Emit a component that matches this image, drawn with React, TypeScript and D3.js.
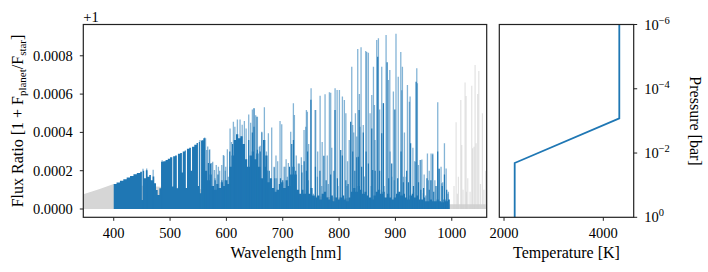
import React from 'react';
import * as d3 from 'd3';

const W = 708;
const H = 272;
const BLUE = '#1f77b4';
const FONT = 'Liberation Serif, DejaVu Serif, Times New Roman, serif';

// flux ratio above 1, in units of 1e-4
// opaque (densely blended) part of the spectrum inside the band
const denseWl = [
  400, 405, 411, 417, 423, 429, 435, 441, 447, 450, 451.5, 454, 457, 460, 463, 466, 469, 472, 475, 478,
  481, 484, 488, 492, 496, 500, 504, 505.5, 509, 512, 514, 518, 521, 522.5, 526, 528, 530, 534, 537, 539,
  543, 547, 549.5, 551, 553, 555, 559, 562, 566, 570, 574, 578, 582, 586, 590, 594, 598, 602, 605, 609,
  613, 617, 621, 625, 629, 633, 637, 641, 645, 649, 653, 657, 661, 665, 669, 673, 677, 681, 685, 689,
  693, 697, 701, 705, 709, 713, 717, 721, 725, 729, 733, 737, 741, 745, 749, 753, 757, 761, 765, 769,
  773, 777, 781, 785, 789, 793, 797, 801, 805, 809, 813, 817, 821, 825, 829, 833, 837, 841, 845, 849,
  853, 857, 861, 865, 869, 873, 877, 881, 885, 889, 893, 897, 901, 905, 909, 913, 917, 921, 925, 929,
  933, 937, 941, 945, 949, 953, 957, 961, 965, 969, 973, 977, 981, 985, 989, 993, 996.5,
];
const denseVal = [
  1.31, 1.39, 1.48, 1.56, 1.65, 1.73, 1.81, 1.88, 1.95, 0.47, 2.0, 1.6, 2.02, 1.69, 1.78, 1.5, 1.7, 1.34, 0.99, 0.73,
  1.08, 2.47, 2.5, 2.56, 2.62, 2.7, 1.17, 2.76, 2.8, 1.08, 2.88, 2.92, 1.9, 3.0, 3.05, 1.1, 3.15, 3.2, 2.0, 3.25,
  3.35, 3.45, 1.2, 3.5, 0.82, 3.58, 3.7, 2.0, 1.5, 1.8, 1.2, 1.0, 1.3, 1.1, 1.4, 1.2, 1.5, 1.3, 2.2, 2.8,
  3.6, 3.9, 3.7, 3.8, 3.4, 2.6, 2.2, 2.8, 3.0, 2.6, 2.9, 2.2, 1.6, 2.2, 2.8, 1.4, 1.6, 1.1, 0.9, 1.0,
  1.3, 1.4, 1.1, 1.5, 1.2, 1.8, 2.2, 1.8, 1.0, 0.8, 1.0, 0.8, 1.0, 0.8, 1.1, 0.7, 0.6, 0.7, 0.5, 0.8,
  0.9, 0.6, 0.5, 0.7, 0.4, 0.6, 0.5, 0.6, 0.7, 0.5, 0.4, 0.6, 0.9, 1.1, 0.9, 1.2, 1.0, 0.8, 0.9, 0.7,
  0.6, 0.5, 0.7, 0.9, 1.0, 0.8, 0.9, 0.6, 0.8, 0.6, 0.5, 0.6, 0.8, 0.9, 0.7, 0.8, 0.6, 0.5, 0.7, 0.8,
  0.6, 0.7, 0.5, 0.5, 0.6, 0.4, 0.4, 0.5, 0.4, 0.4, 0.5, 0.4, 0.35, 0.5, 0.4, 0.5, 0,
];

// individual emission lines (semi-transparent)
const lineWl = [
  452, 458.5, 470, 486, 553, 557.9, 561.5, 563, 565, 566.8, 569.8, 570.4, 574, 575.7, 578.7, 579.8, 582, 585.8, 588, 591.7,
  594.6, 595.8, 598, 598.8, 601.7, 603.5, 606.5, 609, 612.4, 615, 619.5, 624.2, 626, 628, 631.9, 635, 636, 639.6, 643, 646.1,
  648.5, 649.6, 652, 653.8, 655, 658.5, 660, 662.7, 663, 667.4, 671, 671.5, 674.5, 680.4, 684.6, 685.2, 688, 689.3, 691, 695.2,
  698.2, 702.3, 704, 706, 708.2, 710, 714.1, 718.9, 720.7, 724, 727.7, 729.5, 733, 733.7, 737.8, 740.8, 742, 743.7, 745.5, 746,
  750.3, 754.4, 757.4, 758.5, 761.5, 762, 766.3, 769.2, 770, 775.1, 779, 781, 782.8, 785.1, 787, 792.9, 796.5, 798, 800.6, 805.9,
  809.4, 812, 814, 815, 818, 822.5, 824.2, 826, 829, 831.3, 833.1, 836, 837.2, 839, 843, 845, 847.3, 849, 852, 855,
  857, 858, 861, 862.7, 863.8, 866.8, 869.8, 872, 875.7, 878.7, 880, 883.4, 887.6, 890, 890.5, 893.5, 896.4, 898, 901, 905,
  909.5, 911.2, 912.4, 914.2, 916, 918.9, 921.3, 924.8, 926, 931, 932, 934, 936, 937.9, 939, 940.8, 943.8, 945, 947, 949.7,
  951, 953.8, 956.8, 958.6, 960, 963.3, 966, 966.3, 970, 975.1, 977.5, 981, 982.2, 984, 987, 990, 993, 994,
];
const lineVal = [
  2.1, 2.12, 2.05, 2.55, 3.6, 3.6, 3.74, 3.69, 3.08, 3.26, 3.08, 3.12, 2.4, 2.47, 2.04, 1.6, 2.3, 2.21, 2.0, 2.3,
  2.82, 2.78, 2.0, 2.21, 3.12, 1.69, 4.21, 3.5, 4.56, 4.3, 4.68, 4.68, 3.78, 4.4, 4.6, 4.2, 2.04, 4.94, 4.5, 5.2,
  5.26, 5.26, 4.9, 4.82, 4.82, 3.25, 3.3, 4.04, 4.0, 5.31, 3.0, 2.04, 3.95, 4.26, 2.21, 2.18, 2.8, 1.6, 2.5, 4.6,
  4.42, 2.21, 2.21, 2.6, 1.69, 2.4, 4.04, 5.52, 4.91, 2.8, 2.38, 2.38, 2.7, 2.3, 4.13, 4.3, 5.17, 5.08, 1.5, 3.4,
  6.3, 0.8, 5.17, 5.17, 1.69, 3.0, 5.92, 1.2, 3.5, 5.99, 2.8, 1.3, 6.09, 6.07, 3.2, 6.3, 6.21, 1.2, 6.21, 5.87,
  5.69, 5.0, 1.2, 2.5, 3.6, 7.43, 4.39, 4.0, 5.0, 3.78, 8.36, 6.0, 4.3, 8.44, 4.39, 1.7, 8.25, 8.2, 8.16, 5.0,
  1.2, 5.95, 7.43, 5.43, 3.6, 8.83, 8.91, 5.2, 7.43, 5.52, 1.2, 9.09, 6.74, 7.26, 3.0, 1.69, 6.13, 1.5, 9.15, 6.91,
  8.2, 6.2, 7.43, 1.69, 4.0, 1.69, 6.48, 5.6, 5.87, 3.2, 0.9, 2.5, 2.47, 7.35, 6.56, 2.3, 2.56, 2.56, 2.59, 0.82,
  1.8, 0.7, 2.9, 1.5, 2.0, 2.9, 2.85, 2.9, 1.5, 5.57, 2.1, 2.21, 1.34, 1.4, 3.43, 2.12, 0.8, 0.9,
];

// strongly overlapping lines (opaque)
const coreWl = [
  568, 572, 580, 585, 592, 598, 606, 611, 639.6, 646, 649, 655, 660, 666, 668, 672, 676, 686, 696, 700,
  712, 716, 719, 723, 734, 738, 742, 744, 750, 758, 766, 773, 777, 785, 791, 792.8, 797, 802.9, 805.8, 812,
  816, 820.6, 824.2, 828, 831.3, 834.3, 835.5, 840, 843, 848, 852, 858, 859.7, 864, 868.6, 872, 875.7, 878.7, 885.2, 888,
  893.4, 899, 904, 910, 914, 920, 923, 927, 932, 936.7, 941, 945, 950, 956, 960, 963, 968, 972, 975, 977.5,
  983, 987, 991,
];
const coreVal = [
  2.4, 2.38, 1.5, 1.8, 1.5, 1.5, 3.0, 3.4, 3.6, 4.0, 4.3, 3.1, 3.0, 3.6, 3.6, 2.0, 2.0, 1.6, 1.6, 1.5,
  2.2, 3.4, 3.6, 2.0, 1.9, 2.5, 2.0, 3.0, 5.7, 2.2, 2.0, 2.78, 1.5, 1.8, 2.0, 5.17, 1.6, 3.08, 2.8, 1.5,
  1.3, 4.56, 3.0, 2.0, 2.7, 2.73, 5.17, 2.2, 4.0, 3.0, 2.38, 4.2, 2.04, 2.0, 7.95, 2.0, 3.95, 5.52, 7.66, 1.6,
  2.38, 5.2, 1.6, 3.0, 1.4, 2.0, 1.4, 3.43, 1.2, 6.65, 1.4, 1.0, 1.1, 1.6, 1.0, 1.5, 0.9, 1.2, 3.0, 2.1,
  1.2, 1.8, 1.0,
];

// outside the band (grey)
const greyWl = [346, 360, 375, 390, 400, 996, 1062];
const greyVal = [0.77, 0.9, 1.05, 1.2, 1.31, 0.25, 0.25];
const greyLineWl = [
  1004, 1007.7, 1010, 1011.8, 1016, 1017.7, 1020, 1023.6, 1025.4, 1026, 1028.4, 1032.5, 1035.5, 1037, 1039.6, 1041.4, 1043.2, 1046,
  1048, 1051, 1054.4, 1057, 1060,
];
const greyLineVal = [
  1.2, 4.53, 0.8, 1.69, 5.69, 3.34, 1.0, 6.6, 5.9, 0.9, 1.6, 0.9, 6.44, 3.17, 3.25, 7.52, 3.43, 6.0, 7.2, 1.3, 5.0, 1.0, 2.0,
];

const waveTicks = [400, 500, 600, 700, 800, 900, 1000];
const fluxTicks = [0, 2, 4, 6, 8];

// temperature-pressure profile
const tempK = [2215, 2215, 4322, 4322];
const pressBar = [1, 0.0204, 0.00083, 1e-6];
const tempTicks = [2000, 4000];
const pressExp = [-6, -4, -2, 0];

const top = 24.5;
const bottom = 217.3;
const left = { x0: 83.3, x1: 486.7 };
const right = { x0: 499.3, x1: 633.7 };

export default function App() {
  const x = d3.scaleLinear().domain([346, 1062]).range([left.x0, left.x1]);
  const y = d3.scaleLinear().domain([-0.433, 9.634]).range([bottom, top]);
  const t = d3.scaleLinear().domain([1905, 4612]).range([right.x0, right.x1]);
  const p = d3.scaleLog().domain([1e-6, 1]).range([top, bottom]);

  const denseArea = d3
    .area<[number, number]>()
    .x(d => x(d[0]))
    .y0(y(0))
    .y1(d => y(d[1]))
    .curve(d3.curveStepAfter)(denseWl.map((w, i) => [w, denseVal[i]]));
  const greyArea = d3
    .area<[number, number]>()
    .x(d => x(d[0]))
    .y0(y(0))
    .y1(d => y(d[1]))(greyWl.map((w, i) => [w, greyVal[i]]));

  const tp = d3
    .line<[number, number]>()
    .x(d => t(d[0]))
    .y(d => p(d[1]))(tempK.map((k, i) => [k, pressBar[i]]));

  const tick = 3.5;
  const fs = 14.5;
  const txt = { fontFamily: FONT };

  return (
    <svg
      width={W}
      height={H}
      style={{ position: 'absolute', left: 0, top: 0, background: '#fff', fontFamily: FONT }}
    >
      <defs>
        <clipPath id="clipL">
          <rect x={left.x0} y={top} width={left.x1 - left.x0} height={bottom - top} />
        </clipPath>
      </defs>

      {/* spectrum */}
      <g clipPath="url(#clipL)">
        <path d={greyArea || ''} fill="#d6d6d6" />
        {greyLineWl.map((w, i) => (
          <line key={'g' + i} x1={x(w)} x2={x(w)} y1={y(0)} y2={y(greyLineVal[i])} stroke="#cfcfcf" strokeOpacity={0.6} strokeWidth={1.2} />
        ))}
        <path d={denseArea || ''} fill={BLUE} />
        {lineWl.map((w, i) => (
          <line key={'l' + i} x1={x(w)} x2={x(w)} y1={y(0)} y2={y(lineVal[i])} stroke={BLUE} strokeOpacity={0.55} strokeWidth={1.3} />
        ))}
        {coreWl.map((w, i) => (
          <line key={'c' + i} x1={x(w)} x2={x(w)} y1={y(0)} y2={y(coreVal[i])} stroke={BLUE} strokeWidth={1.2} />
        ))}
      </g>

      {/* left axes */}
      <rect x={left.x0} y={top} width={left.x1 - left.x0} height={bottom - top} fill="none" stroke="#222" strokeWidth={1.2} />
      {waveTicks.map(v => (
        <g key={v} transform={`translate(${x(v)},${bottom})`}>
          <line y2={tick} stroke="#222" strokeWidth={1} />
          <text y={20.5} textAnchor="middle" fontSize={fs} style={txt}>{v}</text>
        </g>
      ))}
      {fluxTicks.map(v => (
        <g key={v} transform={`translate(${left.x0},${y(v)})`}>
          <line x2={-tick} stroke="#222" strokeWidth={1} />
          <text x={-10.5} y={5} textAnchor="end" fontSize={fs} style={txt}>{(v * 1e-4).toFixed(4)}</text>
        </g>
      ))}
      <text x={left.x0} y={21.5} fontSize={fs} style={txt}>+1</text>
      <text x={(left.x0 + left.x1) / 2 + 1} y={258} textAnchor="middle" fontSize={16} style={txt}>Wavelength [nm]</text>
      <text transform={`translate(23,121) rotate(-90)`} textAnchor="middle" fontSize={16} style={txt}>
        Flux Ratio [1 + F
        <tspan fontSize={11} dy={3}>planet</tspan>
        <tspan dy={-3}>/F</tspan>
        <tspan fontSize={11} dy={3}>star</tspan>
        <tspan dy={-3}>]</tspan>
      </text>

      {/* right axes */}
      <path d={tp || ''} fill="none" stroke={BLUE} strokeWidth={1.8} />
      <rect x={right.x0} y={top} width={right.x1 - right.x0} height={bottom - top} fill="none" stroke="#222" strokeWidth={1.2} />
      {tempTicks.map(v => (
        <g key={v} transform={`translate(${t(v)},${bottom})`}>
          <line y2={tick} stroke="#222" strokeWidth={1} />
          <text y={20.5} textAnchor="middle" fontSize={fs} style={txt}>{v}</text>
        </g>
      ))}
      {pressExp.map(e => (
        <g key={e} transform={`translate(${right.x1},${p(Math.pow(10, e))})`}>
          <line x2={tick} stroke="#222" strokeWidth={1} />
          <text x={10.5} y={5} fontSize={fs} style={txt}>
            10
            <tspan fontSize={10.5} dy={-6}>{e === 0 ? '0' : '\u2212' + Math.abs(e)}</tspan>
          </text>
        </g>
      ))}
      <text x={(right.x0 + right.x1) / 2} y={258} textAnchor="middle" fontSize={16} style={txt}>Temperature [K]</text>
      <text transform={`translate(690,121) rotate(90)`} textAnchor="middle" fontSize={16} style={txt}>Pressure [bar]</text>
    </svg>
  );
}
